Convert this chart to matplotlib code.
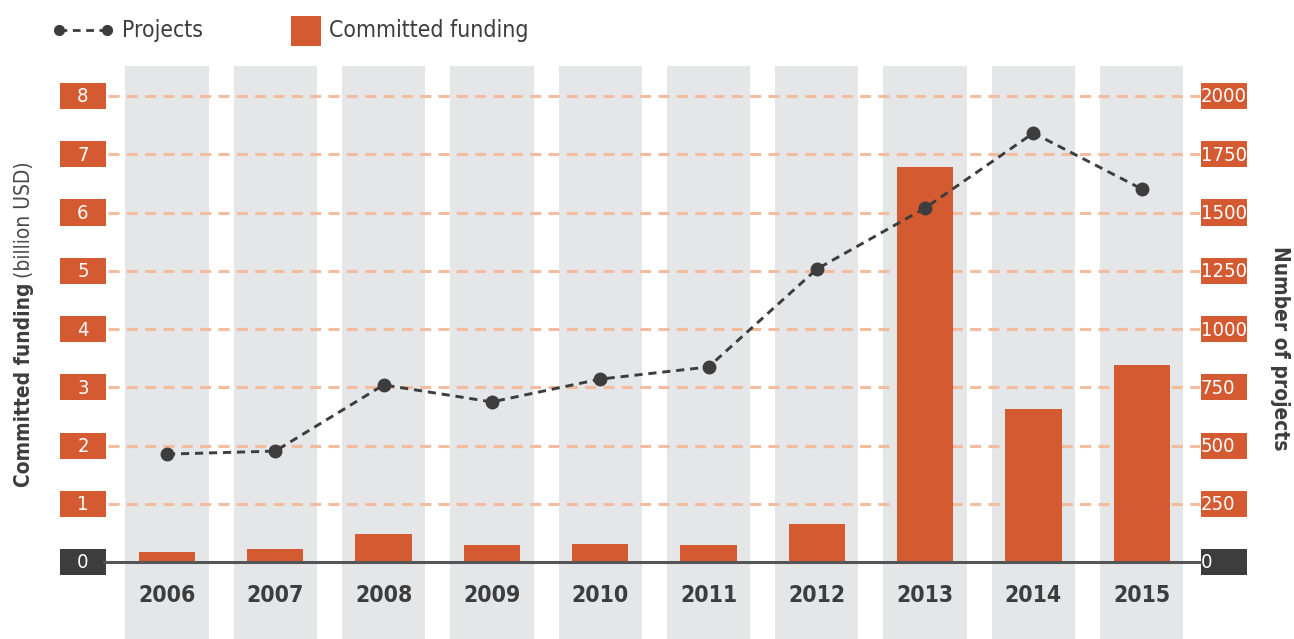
import matplotlib
matplotlib.use("Agg")
import matplotlib.pyplot as plt
from matplotlib.patches import Rectangle
from matplotlib.lines import Line2D

years = ["2006", "2007", "2008", "2009", "2010", "2011", "2012", "2013", "2014", "2015"]
funding = [0.17, 0.22, 0.48, 0.29, 0.31, 0.29, 0.65, 6.78, 2.63, 3.38]
projects = [463, 476, 760, 687, 785, 837, 1257, 1519, 1841, 1601]
left_ticks = [0, 1, 2, 3, 4, 5, 6, 7, 8]
right_ticks = [0, 250, 500, 750, 1000, 1250, 1500, 1750, 2000]

ORANGE = "#d45a31"
DARK = "#3d3d3d"
GRAY = "#e5e6e8"
GRID = "#f2bc9f"
FONT = dict(family="DejaVu Sans", stretch="condensed")

W, H = 1294, 639
fig = plt.figure(figsize=(W / 100, H / 100), dpi=100)

def fx(px):
    return px / W

def fy(py):
    return 1 - py / H

# axes geometry in pixels
ax_left, ax_right, ax_top, ax_bot = 108, 1200, 66, 639
ax = fig.add_axes([fx(ax_left), fy(ax_bot), fx(ax_right - ax_left), (ax_bot - ax_top) / H])
x0pix, step = 167, 108.3
ax.set_xlim((ax_left - x0pix) / step, (ax_right - x0pix) / step)
y0pix, unit = 562, 58.25
ylo, yhi = -(ax_bot - y0pix) / unit, (y0pix - ax_top) / unit
ax.set_ylim(ylo, yhi)
ax.axis("off")

for i in range(len(years)):
    ax.axvspan(i - 0.385, i + 0.385, color=GRAY, zorder=0, lw=0)

for t in left_ticks[1:]:
    ax.axhline(t, color=GRID, lw=2.2, ls=(0, (3.6, 2.4)), zorder=1)

ax.bar(range(len(years)), funding, width=0.52, color=ORANGE, zorder=2)

for i, y in enumerate(years):
    ax.text(i, -0.57, y, ha="center", va="center", fontsize=16.5, fontweight="bold",
            color=DARK, **FONT)

ax2 = ax.twinx()
ax2.set_ylim(ylo * 250, yhi * 250)
ax2.axis("off")
ax2.plot(range(len(years)), projects, color=DARK, lw=2.1, ls=(0, (2.8, 2.0)), marker="o",
         markersize=9, zorder=5)

# zero line
fig.add_artist(Line2D([fx(104), fx(1202)], [fy(562), fy(562)], color="#555555", lw=2.2, zorder=3))

# tick label boxes
for t in left_ticks:
    yc = y0pix - t * unit
    col = DARK if t == 0 else ORANGE
    fig.add_artist(Rectangle((fx(60), fy(yc + 13)), fx(46), 26 / H, color=col, lw=0))
    fig.text(fx(83), fy(yc + 1), str(t), ha="center", va="center", color="white",
             fontsize=14.5, **FONT)
for t in right_ticks:
    yc = y0pix - t / 250 * unit
    col = DARK if t == 0 else ORANGE
    fig.add_artist(Rectangle((fx(1201), fy(yc + 13)), fx(46), 26 / H, color=col, lw=0))
    fig.text(fx(1201), fy(yc + 1), str(t), ha="left", va="center", color="white",
             fontsize=14.5, **FONT)

# axis labels
lab1 = fig.text(fx(24), fy(487), "Committed funding", rotation=90, ha="center", va="bottom",
                fontsize=15, fontweight="bold", color=DARK, **FONT)
renderer = fig.canvas.get_renderer()
bb = lab1.get_window_extent(renderer)
fig.text(fx(24), bb.y1 / H + 5 / H, "(billion USD)", rotation=90, ha="center", va="bottom",
         fontsize=15, color="#4a4a4a", **FONT)
fig.text(fx(1280), fy(348), "Number of projects", rotation=270, ha="center", va="center",
         fontsize=15, fontweight="bold", color=DARK, **FONT)

# legend
fig.add_artist(Line2D([fx(59), fx(107)], [fy(30), fy(30)], color=DARK, lw=2,
                      ls=(0, (2.8, 2.0)), marker="o", markersize=7, markevery=[0, -1]))
fig.text(fx(122), fy(30), "Projects", ha="left", va="center", fontsize=16.5, color=DARK, **FONT)
fig.add_artist(Rectangle((fx(291), fy(46)), fx(30), 30 / H, color=ORANGE, lw=0))
fig.text(fx(329), fy(30), "Committed funding", ha="left", va="center", fontsize=16.5,
         color=DARK, **FONT)

fig.savefig("out.png", dpi=100)
